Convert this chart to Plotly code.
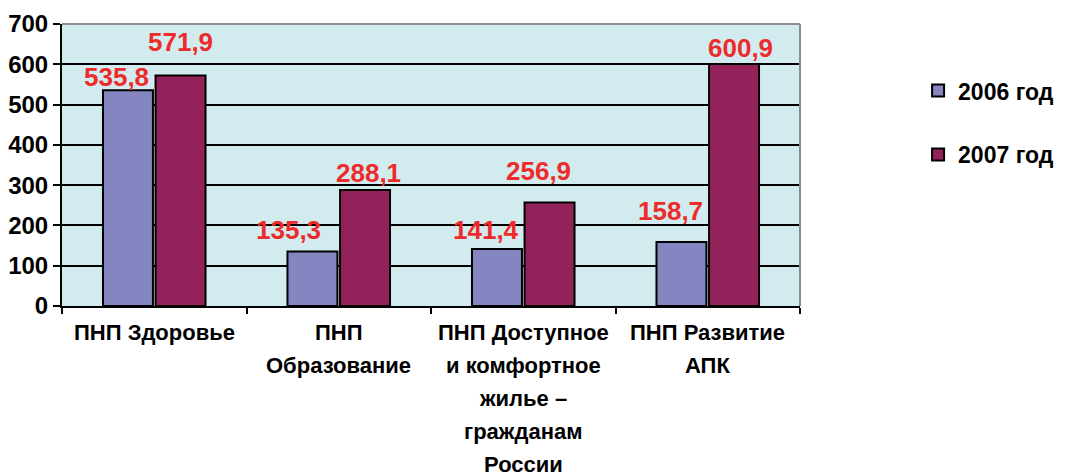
import plotly.graph_objects as go

categories = ["ПНП Здоровье", "ПНП Образование",
              "ПНП Доступное и комфортное жилье – гражданам России",
              "ПНП Развитие АПК"]
cat_lines = [["ПНП Здоровье"], ["ПНП", "Образование"],
             ["ПНП Доступное", "и комфортное", "жилье –", "гражданам", "России"],
             ["ПНП Развитие", "АПК"]]
series_names = ["2006 год", "2007 год"]
values_2006 = [535.8, 135.3, 141.4, 158.7]
values_2007 = [571.9, 288.1, 256.9, 600.9]
y_ticks = [0, 100, 200, 300, 400, 500, 600, 700]

colors = ["#8585c2", "#93225a"]
FONT = "Liberation Sans, Arial, sans-serif"

fig = go.Figure()
for i, (name, vals) in enumerate(zip(series_names, [values_2006, values_2007])):
    fig.add_trace(go.Bar(
        x=categories, y=vals, name=f"<b>{name}</b>", legendgroup=name,
        marker=dict(color=colors[i], line=dict(color="black", width=2)),
    ))

def fmt(v):
    return f"{v:.1f}".replace(".", ",")

# label offsets (style): xshift from category center, yshift above bar top (px)
off_2006 = [(-38, 13), (-50, 21), (-37, 19), (-37, 31)]
off_2007 = [(26, 34), (30, 17), (15, 32), (33, 16)]
for vals, offs in [(values_2006, off_2006), (values_2007, off_2007)]:
    for c, v, (dx, dy) in zip(categories, vals, offs):
        fig.add_annotation(x=c, y=v, xref="x", yref="y", text=f"<b>{fmt(v)}</b>",
                           showarrow=False, xshift=dx, yshift=dy,
                           xanchor="center", yanchor="middle",
                           font=dict(family=FONT, size=26, color="#ee2b2b"))

for c, lines in zip(categories, cat_lines):
    for j, ln in enumerate(lines):
        fig.add_annotation(x=c, y=0, xref="x", yref="paper", text=f"<b>{ln}</b>",
                           showarrow=False, yshift=-26 - 33 * j, yanchor="middle",
                           font=dict(family=FONT, size=22, color="black"))

# grey top/right frame
fig.add_shape(type="line", xref="paper", yref="paper", x0=0, x1=1, y0=1, y1=1,
              line=dict(color="#8c8c8c", width=2))
fig.add_shape(type="line", xref="paper", yref="paper", x0=1, x1=1, y0=0, y1=1,
              line=dict(color="#8c8c8c", width=2))

# page body has an 8px margin; figure sized to fit the 1073x476 window
fig.update_layout(
    width=1065, height=468,
    margin=dict(l=54, r=273, t=16, b=170),
    paper_bgcolor="white", plot_bgcolor="#d2ebee",
    barmode="group", bargap=0.43, bargroupgap=0.05,
    font=dict(family=FONT, color="black"),
    legend=dict(x=1.16, y=0.84, xanchor="left", yanchor="top",
                traceorder="grouped", tracegroupgap=31,
                font=dict(family=FONT, size=23, color="black"),
                itemwidth=30),
    showlegend=True,
)
fig.update_xaxes(type="category", showticklabels=False, tickson="boundaries",
                 ticks="outside", ticklen=6, tickwidth=2, tickcolor="black",
                 showline=True, linecolor="black", linewidth=2, showgrid=False,
                 automargin=False)
fig.update_yaxes(range=[0, 700], tickvals=y_ticks,
                 ticktext=[f"<b>{t}</b>" for t in y_ticks],
                 ticks="outside", ticklen=7, tickwidth=2, tickcolor="black",
                 tickfont=dict(family=FONT, size=24, color="black"),
                 showline=True, linecolor="black", linewidth=2,
                 showgrid=True, gridcolor="black", gridwidth=2, zeroline=False,
                 automargin=False)

fig.write_html("out.html")
